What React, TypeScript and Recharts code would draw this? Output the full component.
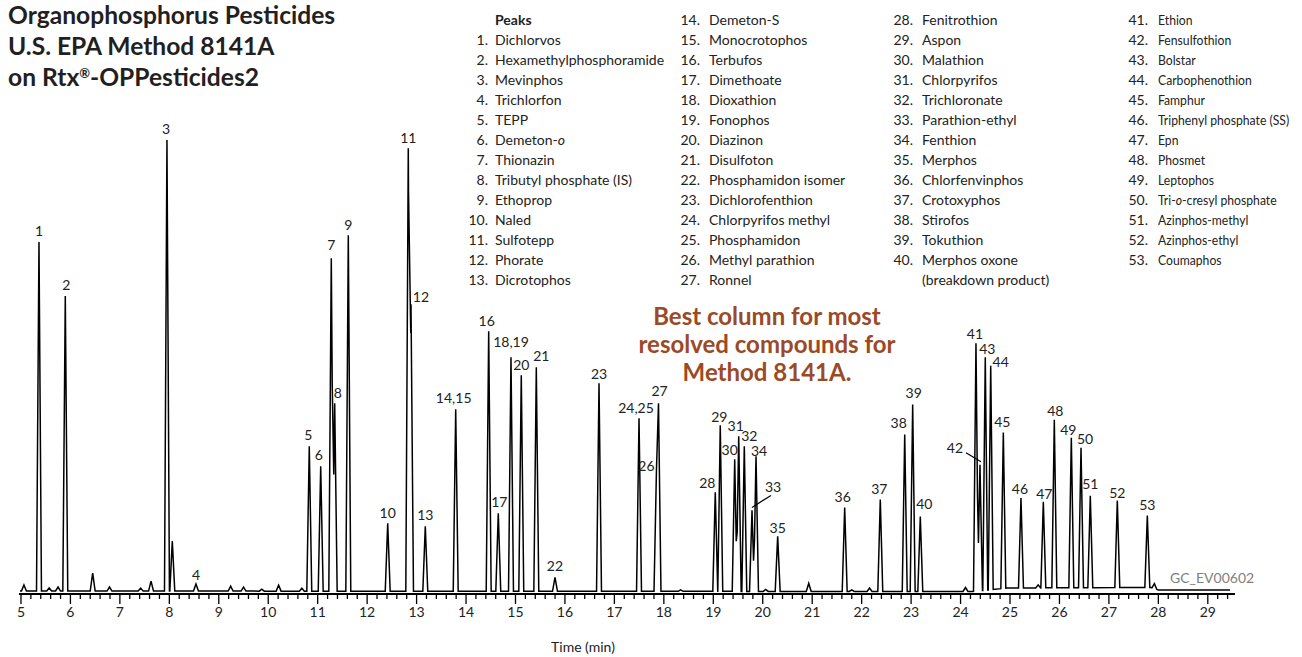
import { ComposedChart, Line, Scatter, XAxis, YAxis } from 'recharts';

// peak apex times (min), heights (signal units above baseline) and peak labels
const peakLabels = [
  '', '1', '', '', '2', '', '', '', '', '3', '', '4', '', '', '', '', '',
  '5', '6', '7', '8', '9', '10', '11', '12', '13', '14,15', '16', '17', '18,19', '20', '21', '22',
  '23', '24,25', '26', '27', '', '28', '29', '30', '31', '32', '33', '34', '', '35', '', '36', '', '',
  '37', '38', '39', '40', '', '41', '42', '43', '44', '45', '46', '', '47', '48', '49', '50', '51', '52', '53', '',
];
const peakTimes = [
  5.06, 5.364, 5.57, 5.75, 5.896, 6.45, 6.79, 7.42, 7.63, 7.952, 8.06, 8.539, 9.24, 9.5, 9.87, 10.21, 10.68,
  10.83, 11.061, 11.275, 11.344, 11.619, 12.416, 12.832, 12.887, 13.176, 13.791, 14.458, 14.652, 14.909, 15.117, 15.421, 15.799,
  16.689, 17.498, 17.851, 17.892, 18.34, 19.04, 19.141, 19.433, 19.514, 19.627, 19.783, 19.864, 20.06, 20.302, 20.93, 21.657, 21.8, 22.16,
  22.377, 22.871, 23.032, 23.186, 24.1, 24.312, 24.393, 24.5, 24.61, 24.865, 25.222, 25.57, 25.674, 25.896, 26.24, 26.436, 26.624, 27.17, 27.777, 27.92,
];
const peakHeights = [
  6, 349, 3, 4, 295, 18, 4, 3, 10, 451, 50, 7, 5, 4, 2, 6, 3,
  145, 125, 333, 188, 356, 68, 443, 287, 65, 182, 260, 78, 234, 216, 224, 14,
  208, 173, 122, 188, 1.5, 99, 166, 132, 155, 145, 81, 135, 2, 55, 8, 84, 1.5, 3.5,
  92, 157, 187, 75, 4, 248, 126, 233, 224, 156, 90, 3, 86, 168, 150, 140, 92, 87, 72, 5,
];

// baseline drift read at a few times
const baselineTimes = [4.98, 24.25, 24.95, 27.85, 28.0, 29.45];
const baselineLevels = [1, 0.5, 4, 4.5, 2, 2];

const majorTicks = [5, 6, 7, 8, 9, 10, 11, 12, 13, 14, 15, 16, 17, 18, 19, 20, 21, 22, 23, 24, 25, 26, 27, 28, 29];

const titleLines = ['Organophosphorus Pesticides', 'U.S. EPA Method 8141A', 'on Rtx®-OPPesticides2'];

const compoundNames = [
  'Dichlorvos', 'Hexamethylphosphoramide', 'Mevinphos', 'Trichlorfon', 'TEPP', 'Demeton-*o*', 'Thionazin',
  'Tributyl phosphate (IS)', 'Ethoprop', 'Naled', 'Sulfotepp', 'Phorate', 'Dicrotophos',
  'Demeton-S', 'Monocrotophos', 'Terbufos', 'Dimethoate', 'Dioxathion', 'Fonophos', 'Diazinon', 'Disulfoton',
  'Phosphamidon isomer', 'Dichlorofenthion', 'Chlorpyrifos methyl', 'Phosphamidon', 'Methyl parathion', 'Ronnel',
  'Fenitrothion', 'Aspon', 'Malathion', 'Chlorpyrifos', 'Trichloronate', 'Parathion-ethyl', 'Fenthion', 'Merphos',
  'Chlorfenvinphos', 'Crotoxyphos', 'Stirofos', 'Tokuthion', 'Merphos oxone\n(breakdown product)',
  'Ethion', 'Fensulfothion', 'Bolstar', 'Carbophenothion', 'Famphur', 'Triphenyl phosphate (SS)', 'Epn', 'Phosmet',
  'Leptophos', 'Tri-*o*-cresyl phosphate', 'Azinphos-methyl', 'Azinphos-ethyl', 'Coumaphos',
];

const HW = 0.05;

const baseAt = (t: number) => {
  for (let i = 0; i < baselineTimes.length - 1; i++) {
    const a = baselineTimes[i], b = baselineTimes[i + 1];
    if (t >= a && t <= b) return baselineLevels[i] + ((t - a) / (b - a)) * (baselineLevels[i + 1] - baselineLevels[i]);
  }
  return baselineLevels[baselineLevels.length - 1];
};

const breaks = new Set<number>(baselineTimes);
peakTimes.forEach((t) => { breaks.add(+(t - HW).toFixed(4)); breaks.add(t); breaks.add(+(t + HW).toFixed(4)); });
const trace = Array.from(breaks)
  .sort((a, b) => a - b)
  .map((t) => {
    let top = 0;
    peakTimes.forEach((p, i) => {
      const k = 1 - Math.abs(t - p) / HW;
      if (k > 0) top = Math.max(top, peakHeights[i] * k);
    });
    return { t, v: baseAt(t) + top };
  });

const labelPoints = peakLabels
  .map((label, i) => ({ label, t: peakTimes[i], v: peakHeights[i] + baseAt(peakTimes[i]) }))
  .filter((p) => p.label !== '');

// label centre offsets from the apex, px
const labelOffset: Record<string, [number, number]> = {
  '1': [0, -11], '2': [1, -11], '3': [-1, -11], '4': [0, -9], '5': [-1, -11], '6': [-2, -11], '7': [0, -13],
  '8': [3, -10], '12': [10, -7], '13': [0, -11], '14,15': [-2, -11], '16': [-2, -10], '17': [1, -11],
  '18,19': [0, -15], '21': [5, -11], '22': [0, -11], '23': [0, -9], '24,25': [-3, -10], '26': [-10, -3],
  '27': [1, -12], '28': [-8, -9], '29': [-1, -8], '30': [-5, -9], '31': [-3, -10], '32': [5, -10],
  '33': [21, -23], '34': [3, -5], '35': [0, -8], '36': [-2, -10], '37': [-1, -10], '38': [-6, -11],
  '39': [1, -11], '40': [4, -12], '41': [-1, -9], '42': [-25, -17], '43': [2, -8], '44': [10, -4],
  '45': [-1, -10], '46': [-1, -9], '47': [1, -8], '48': [1, -9], '49': [-3, -8], '50': [4, -9],
  '51': [0, -12], '52': [0, -8], '53': [0, -10],
};
const leaders: Record<string, [number, number, number, number]> = {
  '33': [0, -3, 19, -15],
  '42': [-14, -12, 1, -3],
};

const minorTicks: number[] = [];
majorTicks.forEach((m) => [0, 0.2, 0.4, 0.6, 0.8].forEach((d) => minorTicks.push(Math.round((m + d) * 10) / 10)));
const allTicks = minorTicks.filter((t) => t <= 29.5);

const AxisTick = ({ x, y, payload }: any) => {
  const val = payload.value;
  const major = majorTicks.includes(val);
  return (
    <g>
      <line x1={x} x2={x} y1={y} y2={y + (major ? 10 : 5)} stroke="#000" strokeWidth={1.3} />
      {major && (
        <text x={x} y={y + 18} dy="0.35em" textAnchor="middle" fontSize={14} fill="#222" fontFamily="Lato, sans-serif">
          {val}
        </text>
      )}
    </g>
  );
};

const PeakLabel = (props: any) => {
  const { cx, cy, payload } = props;
  const [dx, dy] = labelOffset[payload.label] ?? [0, -10];
  const ld = leaders[payload.label];
  return (
    <g>
      {ld && <line x1={cx + ld[0]} y1={cy + ld[1]} x2={cx + ld[2]} y2={cy + ld[3]} stroke="#000" strokeWidth={1.2} />}
      <text x={cx + dx} y={cy + dy} dy="0.35em" textAnchor="middle" fontSize={14} fill="#222" fontFamily="Lato, sans-serif">
        {payload.label}
      </text>
    </g>
  );
};

const renderName = (name: string) =>
  name.split('*').map((part, i) => (i % 2 === 1 ? <i key={i}>{part}</i> : <span key={i}>{part}</span>));

const renderTitle = (line: string) => {
  const parts = line.split('®');
  if (parts.length === 1) return line;
  return (
    <>
      {parts[0]}
      <span style={{ fontSize: 13, position: 'relative', top: -8 }}>®</span>
      {parts[1]}
    </>
  );
};

const columns = [
  { start: 0, end: 13, numRight: 488, nameLeft: 495, firstRow: 1, squeeze: 1 },
  { start: 13, end: 27, numRight: 700, nameLeft: 709, firstRow: 0, squeeze: 1 },
  { start: 27, end: 40, numRight: 913, nameLeft: 922, firstRow: 0, squeeze: 1 },
  { start: 40, end: 53, numRight: 1148, nameLeft: 1158, firstRow: 0, squeeze: 0.87 },
];

export default function App() {
  return (
    <div style={{ position: 'absolute', left: 0, top: 0, width: 1302, height: 657, background: '#fff', fontFamily: 'Lato, sans-serif', color: '#222', overflow: 'hidden' }}>
      <ComposedChart width={1302} height={657} margin={{ top: 100, right: 67, bottom: 23, left: 19 }}>
        <XAxis
          type="number"
          dataKey="t"
          domain={[4.96, 29.55]}
          allowDataOverflow
          ticks={allTicks}
          interval={0}
          tick={<AxisTick />}
          tickLine={false}
          tickSize={0}
          tickMargin={0}
          height={40}
          axisLine={{ stroke: '#000', strokeWidth: 2 }}
        />
        <YAxis type="number" dataKey="v" domain={[-2, 492]} allowDataOverflow hide width={0} />
        <Line data={trace} dataKey="v" type="linear" stroke="#000" strokeWidth={1.5} dot={false} isAnimationActive={false} />
        <Scatter data={labelPoints} dataKey="v" shape={<PeakLabel />} isAnimationActive={false} />
      </ComposedChart>

      {titleLines.map((line, i) => (
        <div
          key={line}
          style={{ position: 'absolute', left: 8, top: 31 * i, fontWeight: 700, fontSize: 24.6, lineHeight: '30px', color: '#231f20', whiteSpace: 'pre' }}
        >
          {renderTitle(line)}
        </div>
      ))}

      <div style={{ position: 'absolute', left: 495, top: 10, fontSize: 14, lineHeight: '20px', fontWeight: 700 }}>Peaks</div>
      {columns.map((c) =>
        compoundNames.slice(c.start, c.end).map((name, k) => {
          const top = 10 + 20 * (c.firstRow + k);
          return (
            <div key={c.start + k}>
              <div style={{ position: 'absolute', right: 1302 - c.numRight, top, fontSize: 14, lineHeight: '20px' }}>{c.start + k + 1}.</div>
              <div
                style={{
                  position: 'absolute', left: c.nameLeft, top, fontSize: 14, lineHeight: '20px', whiteSpace: 'pre',
                  transform: `scaleX(${c.squeeze})`, transformOrigin: 'left center',
                }}
              >
                {renderName(name)}
              </div>
            </div>
          );
        })
      )}

      <div style={{ position: 'absolute', left: 517, width: 500, top: 302, textAlign: 'center', fontWeight: 700, fontSize: 24, lineHeight: '28px', color: '#9b4a26' }}>
        Best column for most
        <br />
        resolved compounds for
        <br />
        Method 8141A.
      </div>

      <div style={{ position: 'absolute', left: 1170, top: 569, fontSize: 14, color: '#808080' }}>GC_EV00602</div>
      <div style={{ position: 'absolute', left: 533, width: 100, top: 638, textAlign: 'center', fontSize: 14 }}>Time (min)</div>
    </div>
  );
}
